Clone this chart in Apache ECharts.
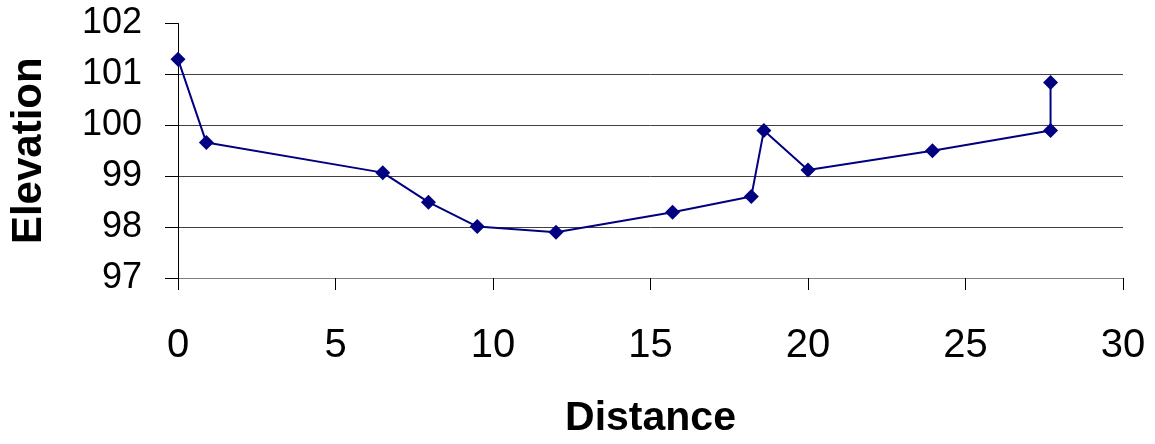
<!DOCTYPE html>
<html><head><meta charset="utf-8">
<script src="https://cdn.jsdelivr.net/npm/echarts@6/dist/echarts.min.js"></script>
<style>html,body{margin:0;padding:0;background:#fff}#c{width:1155px;height:444px}</style>
</head><body><div id="c"></div>
<script>
const distance = [0, 0.9, 6.5, 7.95, 9.5, 12.0, 15.7, 18.2, 18.6, 20.0, 23.95, 27.7, 27.7];
const elevation = [101.3, 99.66, 99.07, 98.49, 98.01, 97.9, 98.29, 98.6, 99.9, 99.12, 99.5, 99.9, 100.84];
const xTicks = [0, 5, 10, 15, 20, 25, 30];
const yTicks = [97, 98, 99, 100, 101, 102];

const pts = distance.map((d, i) => [d, elevation[i]]);
const chart = echarts.init(document.getElementById('c'), null, {renderer: 'canvas'});
chart.setOption({
  animation: false,
  backgroundColor: '#fff',
  grid: {left: 175, right: 32, top: 23.5, bottom: 165, containLabel: false},
  xAxis: {
    type: 'value', min: xTicks[0], max: xTicks[xTicks.length - 1], interval: 5,
    name: 'Distance', nameLocation: 'middle', nameGap: 120,
    nameTextStyle: {fontFamily: 'Liberation Sans', fontWeight: 'bold', fontSize: 41, color: '#000'},
    axisLine: {show: true, lineStyle: {color: '#808080', width: 1}},
    axisTick: {show: true, inside: false, length: 12, lineStyle: {color: '#000'}},
    axisLabel: {fontFamily: 'Liberation Sans', fontSize: 40, color: '#000', margin: 48},
    splitLine: {show: false}
  },
  yAxis: {
    type: 'value', min: yTicks[0], max: yTicks[yTicks.length - 1], interval: 1,
    name: 'Elevation', nameLocation: 'middle', nameGap: 128,
    nameTextStyle: {fontFamily: 'Liberation Sans', fontWeight: 'bold', fontSize: 42, color: '#000'},
    axisLine: {show: true, lineStyle: {color: '#000', width: 1}},
    axisTick: {show: true, inside: false, length: 13, lineStyle: {color: '#000'}},
    axisLabel: {fontFamily: 'Liberation Sans', fontSize: 36, color: '#000', margin: 36},
    splitLine: {show: true, showMinLine: false, showMaxLine: false, lineStyle: {color: '#404040', width: 1}}
  },
  series: [{
    type: 'line', data: pts, symbol: 'diamond', symbolSize: 15,
    lineStyle: {color: '#000080', width: 2},
    itemStyle: {color: '#000080'}
  }]
});
</script></body></html>
